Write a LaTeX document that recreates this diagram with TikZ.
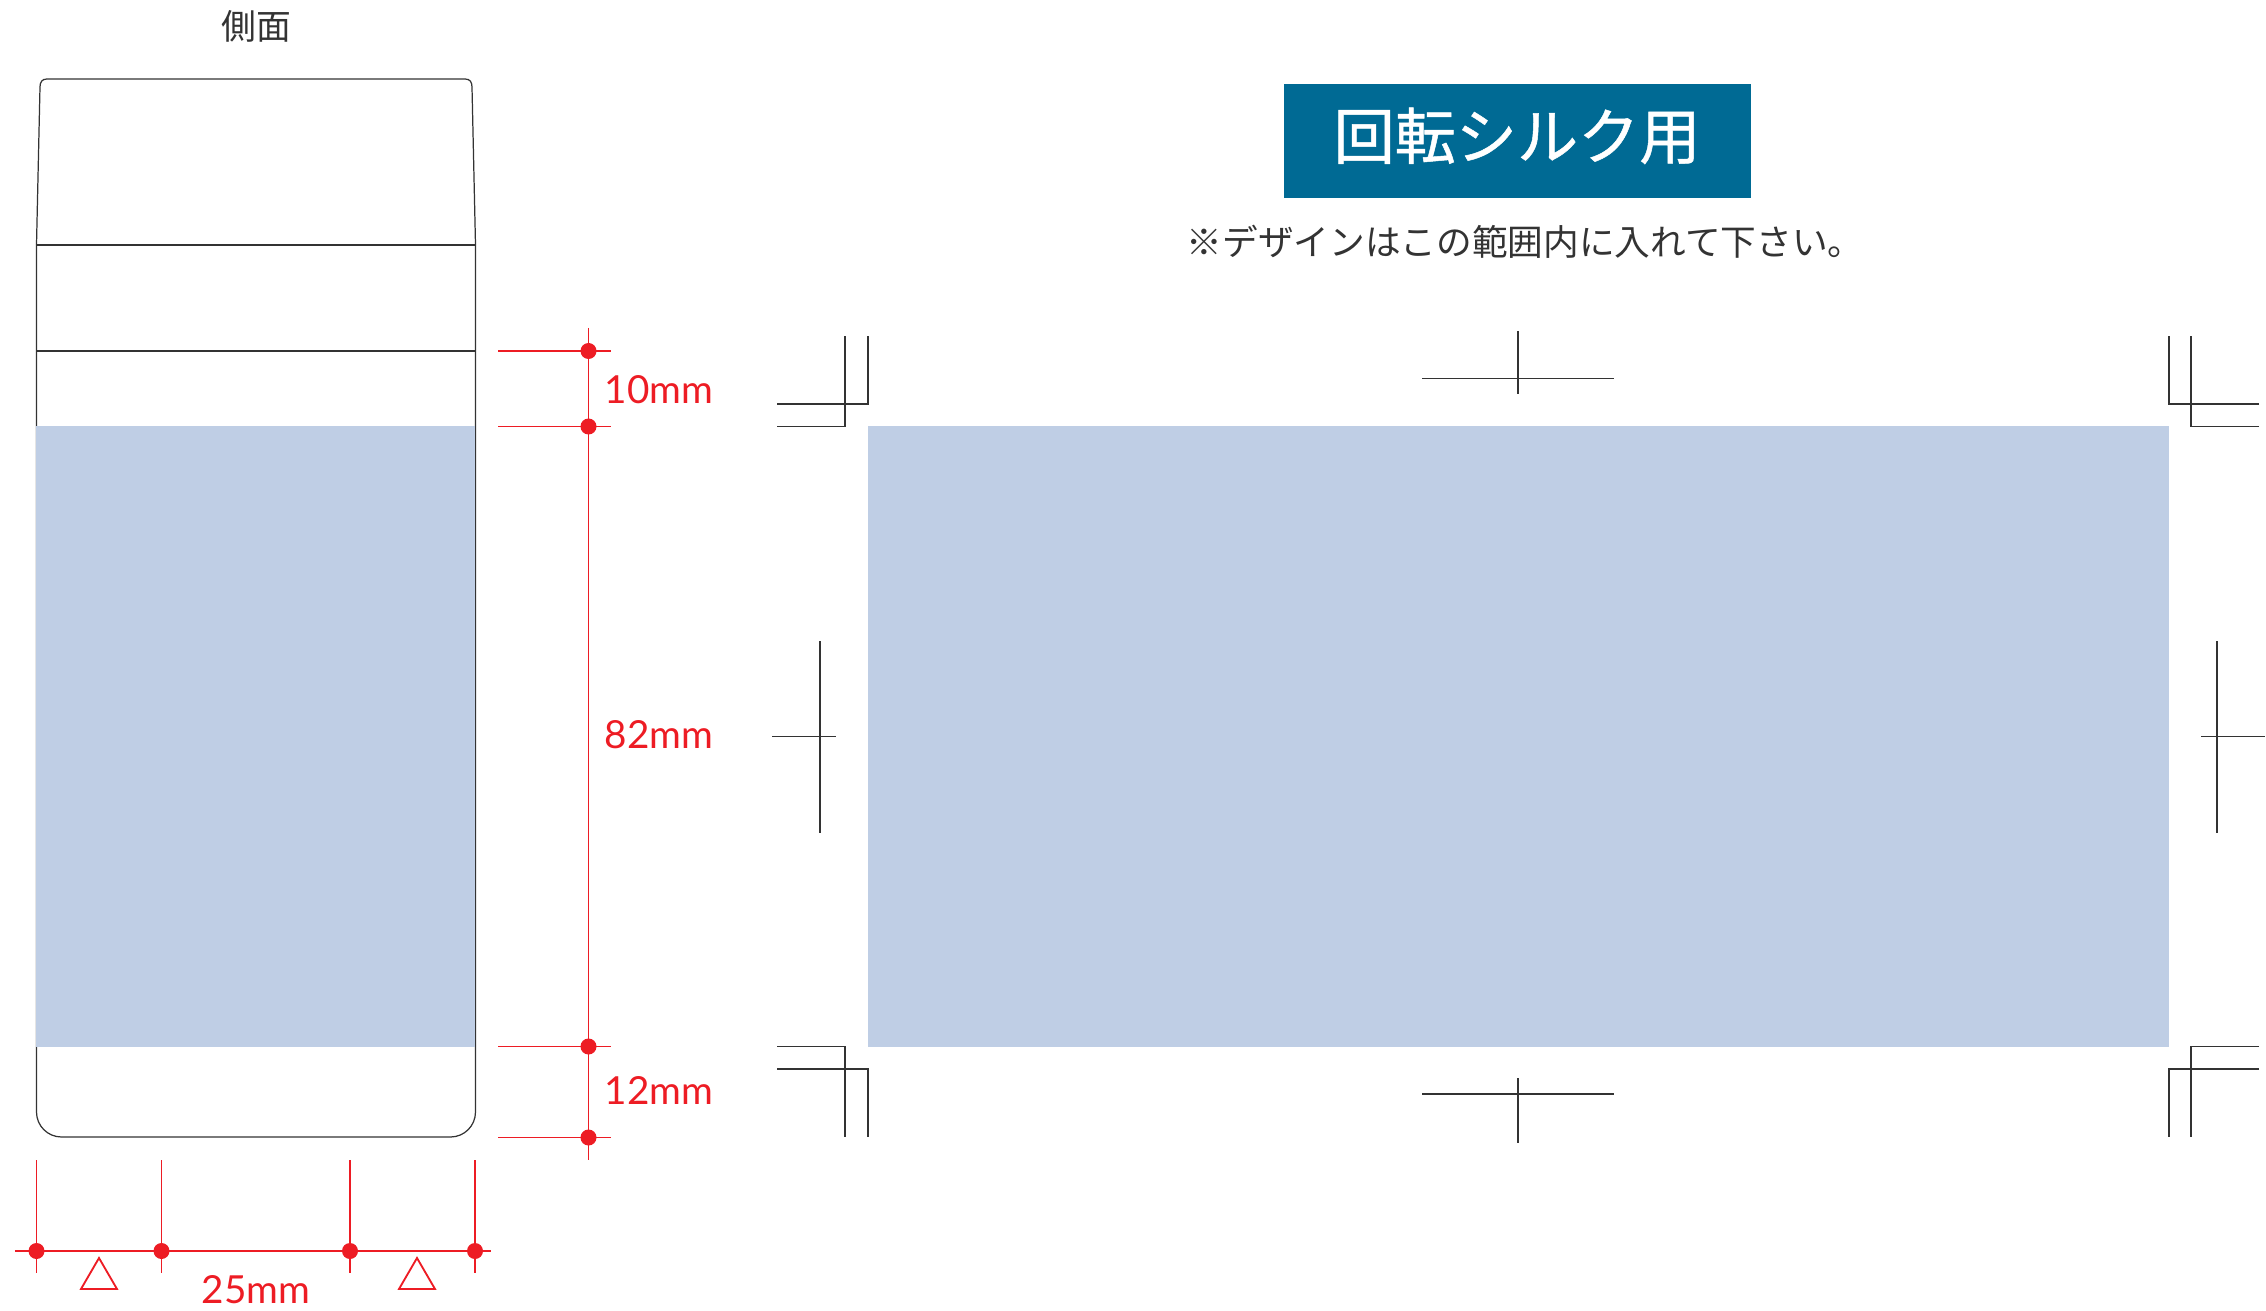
\documentclass[tikz,border=0pt]{standalone}
\usepackage{fontspec}
\setmainfont{Lato}
\newfontfamily\cjk{Noto Sans CJK JP}
\newfontfamily\cjkhead[FakeBold=0.8]{Noto Sans CJK JP}
\usepackage{tikz}
\usetikzlibrary{backgrounds}
\definecolor{printblue}{HTML}{BFCEE5}
\definecolor{headblue}{HTML}{006A94}
\definecolor{dimred}{HTML}{ED1C24}
\definecolor{inkgray}{HTML}{333333}
\newcommand{\dimcolor}{dimred}
\newcommand{\linecolor}{inkgray}
\newcommand{\thickness}{0.35pt}
\tikzset{
  outline/.style={draw=\linecolor, line width=\thickness},
  dimline/.style={draw=\dimcolor, line width=1.5*\thickness},
  dimdot/.style={fill=\dimcolor, circle, inner sep=0pt, minimum size=1.6mm},
  dimlabel/.style={text=\dimcolor, inner sep=0pt, font=\fontsize{11pt}{12pt}\selectfont},
  note/.style={text=\linecolor, inner sep=0pt, font=\cjk\fontsize{9.9pt}{12pt}\selectfont}
}

\begin{document}
\begin{tikzpicture}
\useasboundingbox (0.0, 0.0) rectangle (22.66, -13.11);
%side
\node[note] (sidetitle) at (2.56, -0.26) {側面};
\draw[outline] (0.365, -2.45) -- (0.40, -0.87) .. controls (0.40, -0.82) and (0.42, -0.79) .. (0.47, -0.79) -- (4.65, -0.79) .. controls (4.70, -0.79) and (4.72, -0.82) .. (4.72, -0.87) -- (4.755, -2.45);
\draw[outline] (0.365, -2.45) -- (4.755, -2.45);
\draw[outline] (0.365, -3.51) -- (4.755, -3.51);
\draw[outline] (0.365, -2.45) -- (0.365, -11.12) arc (180:270:0.25) -- (4.505, -11.37) arc (270:360:0.25) -- (4.755, -2.45);
\fill[printblue] (0.36, -4.26) rectangle (4.75, -10.465);
%height
\coordinate (htop) at (5.885, -3.28);
\coordinate (hbot) at (5.885, -11.60);
\node[dimdot] (h1) at (5.885, -3.51) {};
\node[dimdot] (h2) at (5.885, -4.265) {};
\node[dimdot] (h3) at (5.885, -10.465) {};
\node[dimdot] (h4) at (5.885, -11.375) {};
\coordinate (h1a) at (4.98, -3.51);
\coordinate (h1b) at (6.11, -3.51);
\coordinate (h2a) at (4.98, -4.265);
\coordinate (h2b) at (6.11, -4.265);
\coordinate (h3a) at (4.98, -10.465);
\coordinate (h3b) at (6.11, -10.465);
\coordinate (h4a) at (4.98, -11.375);
\coordinate (h4b) at (6.11, -11.375);
\draw[dimline] (htop) -- (hbot);
\draw[dimline] (h1a) -- (h1b);
\draw[dimline] (h2a) -- (h2b);
\draw[dimline] (h3a) -- (h3b);
\draw[dimline] (h4a) -- (h4b);
\node[dimlabel] (top10) at (6.59, -3.90) {10mm};
\node[dimlabel] (mid82) at (6.59, -7.35) {82mm};
\node[dimlabel] (bot12) at (6.59, -10.90) {12mm};
%width
\coordinate (wleft) at (0.15, -12.51);
\coordinate (wright) at (4.91, -12.51);
\node[dimdot] (w1) at (0.365, -12.51) {};
\node[dimdot] (w2) at (1.615, -12.51) {};
\node[dimdot] (w3) at (3.50, -12.51) {};
\node[dimdot] (w4) at (4.75, -12.51) {};
\coordinate (w1a) at (0.365, -11.60);
\coordinate (w1b) at (0.365, -12.73);
\coordinate (w2a) at (1.615, -11.60);
\coordinate (w2b) at (1.615, -12.73);
\coordinate (w3a) at (3.50, -11.60);
\coordinate (w3b) at (3.50, -12.73);
\coordinate (w4a) at (4.75, -11.60);
\coordinate (w4b) at (4.75, -12.73);
\draw[dimline] (wleft) -- (wright);
\draw[dimline] (w1a) -- (w1b);
\draw[dimline] (w2a) -- (w2b);
\draw[dimline] (w3a) -- (w3b);
\draw[dimline] (w4a) -- (w4b);
\draw[dimline] (0.81, -12.89) -- (0.99, -12.58) -- (1.17, -12.89) -- cycle;
\draw[dimline] (3.99, -12.89) -- (4.17, -12.58) -- (4.35, -12.89) -- cycle;
\node[dimlabel] (total25) at (2.56, -12.90) {25mm};
%head
\node[fill=headblue, text=white, inner sep=0pt, text height=5mm, text depth=1.4mm, minimum width=4.67cm, minimum height=1.14cm, font=\cjkhead\fontsize{17.4pt}{20pt}\selectfont] (headbox) at (15.17, -1.41) {回転シルク用};
\node[note, font=\cjk\fontsize{10.15pt}{12pt}\selectfont] (headnote) at (15.25, -2.42) {※デザインはこの範囲内に入れて下さい。};
%print area
\fill[printblue] (8.675, -4.265) rectangle (21.69, -10.465);
%corners
\draw[outline] (7.77, -4.265) -- (8.45, -4.265) -- (8.45, -3.36);
\draw[outline] (7.77, -4.04) -- (8.68, -4.04) -- (8.68, -3.36);
\draw[outline] (22.59, -4.265) -- (21.91, -4.265) -- (21.91, -3.36);
\draw[outline] (22.59, -4.04) -- (21.69, -4.04) -- (21.69, -3.36);
\draw[outline] (7.77, -10.465) -- (8.45, -10.465) -- (8.45, -11.37);
\draw[outline] (7.77, -10.69) -- (8.68, -10.69) -- (8.68, -11.37);
\draw[outline] (22.59, -10.465) -- (21.91, -10.465) -- (21.91, -11.37);
\draw[outline] (22.59, -10.69) -- (21.69, -10.69) -- (21.69, -11.37);
%centre marks
\draw[outline] (14.22, -3.785) -- (16.14, -3.785);
\draw[outline] (15.18, -3.31) -- (15.18, -3.945);
\draw[outline] (14.22, -10.94) -- (16.14, -10.94);
\draw[outline] (15.18, -10.78) -- (15.18, -11.43);
\draw[outline] (7.72, -7.365) -- (8.36, -7.365);
\draw[outline] (8.20, -6.41) -- (8.20, -8.33);
\draw[outline] (22.01, -7.365) -- (22.645, -7.365);
\draw[outline] (22.17, -6.41) -- (22.17, -8.33);
\end{tikzpicture}
\end{document}
